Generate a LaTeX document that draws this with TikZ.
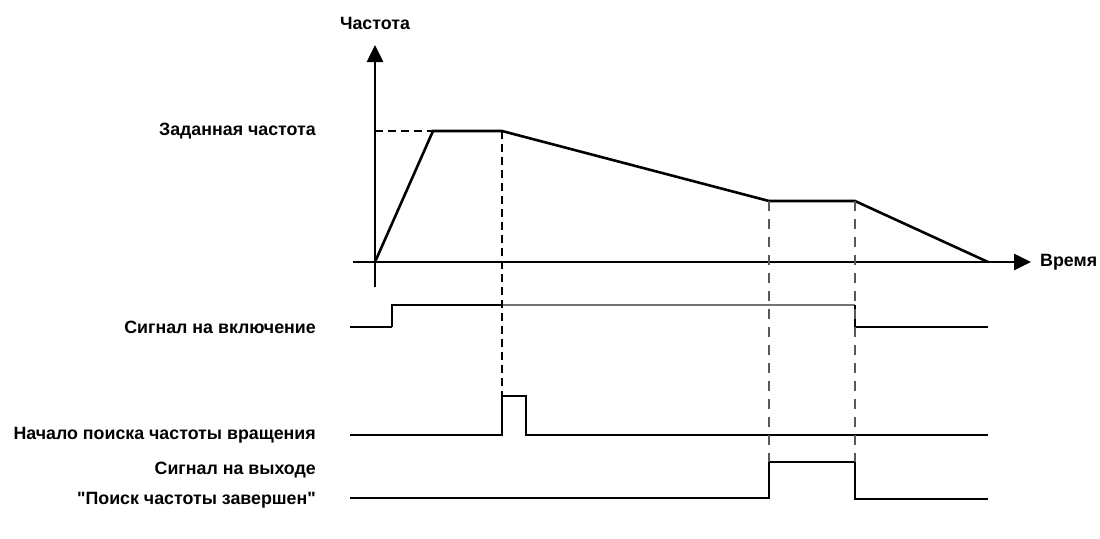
\documentclass[tikz,border=0pt]{standalone}
\usepackage{fontspec}
\setmainfont{Liberation Sans}[Ligatures=TeXOff]
\usetikzlibrary{arrows.meta}
\tikzset{
  lbl/.style={font=\bfseries\fontsize{17.8}{20}\selectfont, inner sep=0pt},
  axis/.style={line width=2.6pt, -{Triangle[length=17pt,width=16pt]}},
  curve/.style={line width=2.6pt, line join=miter},
  sig/.style={line width=2pt, line join=miter},
  thickdash/.style={line width=2.8pt, dash pattern=on 8pt off 5pt},
  thindash/.style={line width=1.5pt, draw=black!65, dash pattern=on 10pt off 8pt},
}
\begin{document}
\begin{tikzpicture}[x=1pt,y=-1pt]
\useasboundingbox (0,0) rectangle (1100,538);
% coordinates
\coordinate (O) at (375,262);
\coordinate (ybot) at (375,287);
\coordinate (ytop) at (375,45);
\coordinate (xl) at (353,262);
\coordinate (xr) at (1031,262);
\coordinate (f1) at (433,131);
\coordinate (f2) at (502,131);
\coordinate (f3) at (769,201);
\coordinate (f4) at (855,201);
\coordinate (f5) at (988,262);
\coordinate (fy) at (375,131);
% axes
\draw[axis] (ybot) -- (ytop);
\draw[axis] (xl) -- (xr);
% frequency curve
\draw[curve] (O) -- (f1) -- (f2) -- (f3) -- (f4) -- (f5);
\draw[thickdash] (fy) -- (f1);
% labels
\node[lbl] (lfreq) at (375,23) {Частота};
\node[lbl, anchor=west] (ltime) at (1040,262) {Время};
\node[lbl, anchor=east] (lset) at (316,131) {Заданная частота};
\node[lbl, anchor=east] (lon) at (316,327) {Сигнал на включение};
\node[lbl, anchor=east] (lsearch) at (316,435) {Начало поиска частоты вращения};
\node[lbl, anchor=east] (lout1) at (316,470) {Сигнал на выходе};
\node[lbl, anchor=east] (lout2) at (316,500) {"Поиск частоты завершен"};
% signal: on
\coordinate (s1a) at (350,327);
\coordinate (s1b) at (392,327);
\coordinate (s1c) at (392,305);
\coordinate (s1d) at (502,305);
\coordinate (s1e) at (855,305);
\coordinate (s1f) at (855,327);
\coordinate (s1g) at (988,327);
\draw[line width=2.6pt] (s1a) -- (s1b);
\draw[sig] (s1b) -- (s1c) -- (s1d);
\draw[sig, draw=black!55] (s1d) -- (s1e);
\draw[sig] (s1e) -- (s1f);
\draw[line width=2.4pt] (s1f) -- (s1g);
% signal: search start
\coordinate (s2a) at (350,435);
\coordinate (s2b) at (502,435);
\coordinate (s2c) at (502,396);
\coordinate (s2d) at (526,396);
\coordinate (s2e) at (526,435);
\coordinate (s2f) at (988,435);
\draw[sig] (s2a) -- (s2b) -- (s2c) -- (s2d) -- (s2e) -- (s2f);
% signal: search complete
\coordinate (s3a) at (350,498);
\coordinate (s3b) at (769,498);
\coordinate (s3c) at (769,462);
\coordinate (s3d) at (855,462);
\coordinate (s3e) at (855,499);
\coordinate (s3f) at (988,499);
\draw[sig] (s3a) -- (s3b) -- (s3c) -- (s3d) -- (s3e) -- (s3f);
% dashed guide lines
\draw[thickdash] (f2) -- (s2c);
\draw[thindash] (f3) -- (s3c);
\draw[thindash] (f4) -- (s3d);
\end{tikzpicture}
\end{document}
